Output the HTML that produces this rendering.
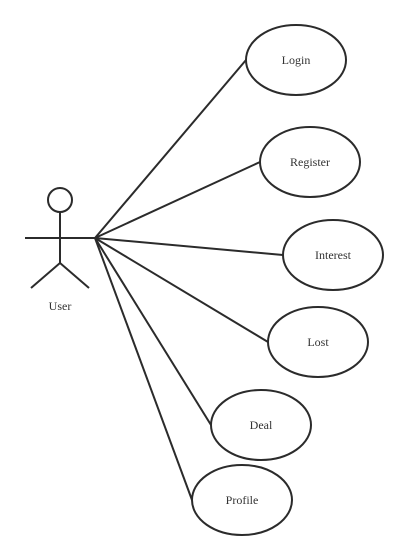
<!DOCTYPE html>
<html><head><meta charset="utf-8"><style>
html,body{margin:0;padding:0;background:#fff;}
svg{display:block;}
text{font-family:"Liberation Serif",serif;font-size:12px;fill:#333;}
</style></head><body>
<svg width="408" height="560" viewBox="0 0 408 560">
<g stroke="#2b2b2b" stroke-width="2" fill="none">
<circle cx="60" cy="200" r="12"/>
<line x1="60" y1="212" x2="60" y2="263"/>
<line x1="25" y1="238" x2="95" y2="238"/>
<line x1="60" y1="263" x2="31" y2="288"/>
<line x1="60" y1="263" x2="89" y2="288"/>
</g>
<text x="60" y="310" text-anchor="middle">User</text>
<g id="cases"></g>
</svg>
<script>
const labels=["Login","Register","Interest","Lost","Deal","Profile"];
const cxs=[296,310,333,318,261,242];
const cys=[60,162,255,342,425,500];
const g=document.getElementById('cases');
const NS='http://www.w3.org/2000/svg';
labels.forEach((l,i)=>{
  const ln=document.createElementNS(NS,'line');
  ln.setAttribute('x1',95);ln.setAttribute('y1',238);
  ln.setAttribute('x2',cxs[i]-50);ln.setAttribute('y2',cys[i]);
  ln.setAttribute('stroke','#2b2b2b');ln.setAttribute('stroke-width','2');
  
  
  g.appendChild(ln);
  const e=document.createElementNS(NS,'ellipse');
  e.setAttribute('cx',cxs[i]);e.setAttribute('cy',cys[i]);
  e.setAttribute('rx',50);e.setAttribute('ry',35);
  e.setAttribute('fill','#fff');e.setAttribute('stroke','#2b2b2b');e.setAttribute('stroke-width','2');
  
  
  g.appendChild(e);
  const t=document.createElementNS(NS,'text');
  t.setAttribute('x',cxs[i]);t.setAttribute('y',cys[i]+4);
  t.setAttribute('text-anchor','middle');
  t.textContent=l;
  
  
  g.appendChild(t);
});
</script>
</body></html>
